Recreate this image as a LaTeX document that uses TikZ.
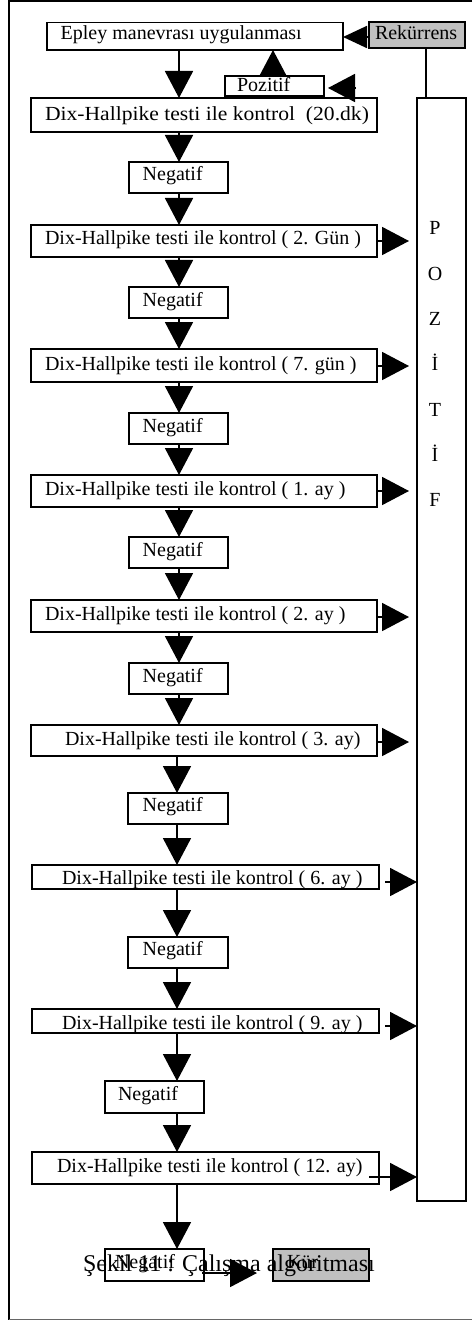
\documentclass[tikz,border=0pt]{standalone}
\usepackage{fontspec}
\setmainfont{Liberation Serif}
\usetikzlibrary{arrows.meta,calc}
\definecolor{boxgray}{RGB}{192,192,192}
\newcommand\bx[6][white]{\node[box, fill=#1, minimum width={(#5-#3)*1pt}, minimum height={(#6-#4)*1pt}] (#2) at (#3,#4) {};}
\begin{document}
\begin{tikzpicture}[x=1pt, y=-1pt, line width=1.7pt, font=\fontsize{20}{24}\selectfont,
  box/.style={draw, line width=1.7pt, inner sep=0pt, outer sep=0pt, anchor=north west},
  txt/.style={inner sep=0pt, outer sep=0pt, anchor=base west},
  arr/.style={-{Triangle[length=27pt,width=28pt]}, line width=1.8pt},
  arrs/.style={-{Triangle[length=24pt,width=22pt]}, line width=1.8pt}]
\useasboundingbox (0,0) rectangle (472,1321);
% outer frame
\draw[line width=1.7pt] (472,0.9) -- (9.2,0.9) -- (9.2,1319.5);
\draw[line width=1.5pt, black!60] (9.2,1319.5) -- (472,1319.5);
% boxes
\bx{Epley}{47}{22.5}{343}{50}
\bx[boxgray]{Rek}{369}{22}{465}{48}
\bx{Pozitif}{225}{76}{324}{96}
\bx{POZ}{417}{98}{466}{1201}
\bx{Dix20}{31}{98}{377}{132}
\bx{N1}{129}{162}{228}{193}
\bx{Dix2}{31}{225}{377}{257}
\bx{N2}{129}{287}{228}{318}
\bx{Dix7}{31}{349}{377}{382}
\bx{N3}{129}{413}{228}{444}
\bx{Dix1}{31}{475}{377}{507}
\bx{N4}{129}{537}{228}{568}
\bx{DixB}{31}{600}{377}{632}
\bx{N5}{129}{663}{228}{694}
\bx{Dix3}{31}{725}{377}{756}
\bx{N6}{128}{793}{228}{824}
\bx{Dix6}{32}{865}{379}{889}
\bx{N7}{128}{937}{228}{968}
\bx{Dix9}{32}{1009}{379}{1033}
\bx{N8}{105}{1081}{204}{1113}
\bx{Dix12}{32}{1152}{379}{1184}
\bx{N9}{105}{1249}{204}{1281}
\bx[boxgray]{Kur}{273}{1249}{369}{1281}
% texts
\node[txt] (tEpley) at (60.7,40) {Epley manevrası uygulanması};
\node[txt] (tRek) at (375,40) {Rekürrens};
\node[txt] (tPoz) at (237,92) {Pozitif};
\node[txt] (tDix20) at (45,121) {\scalebox{1.08}[1]{Dix-Hallpike testi ile kontrol \ (20.dk)}};
\node[txt] (tDix2) at (45,245) {Dix-Hallpike testi ile kontrol ( 2. Gün )};
\node[txt] (tDix7) at (45,370) {Dix-Hallpike testi ile kontrol ( 7. gün )};
\node[txt] (tDix1) at (45,495) {Dix-Hallpike testi ile kontrol ( 1. ay )};
\node[txt] (tDixB) at (45,620) {Dix-Hallpike testi ile kontrol ( 2. ay )};
\node[txt] (tDix3) at (65,745) {Dix-Hallpike testi ile kontrol ( 3. ay)};
\node[txt] (tDix6) at (62,884.5) {Dix-Hallpike testi ile kontrol ( 6. ay )};
\node[txt] (tDix9) at (62,1029) {Dix-Hallpike testi ile kontrol ( 9. ay )};
\node[txt] (tDix12) at (57,1172) {Dix-Hallpike testi ile kontrol ( 12. ay)};
\node[txt] (tN1) at (142.7,181) {Negatif};
\node[txt] (tN2) at (142.7,306) {Negatif};
\node[txt] (tN3) at (142.7,432) {Negatif};
\node[txt] (tN4) at (142.7,556) {Negatif};
\node[txt] (tN5) at (142.7,682) {Negatif};
\node[txt] (tN6) at (142.7,811) {Negatif};
\node[txt] (tN7) at (142.7,955) {Negatif};
\node[txt] (tN8) at (118,1100) {Negatif};
\node[txt] (tN9) at (115,1268) {Negatif};
\node[txt] (tKur) at (287,1268) {Kür};
\foreach \l [count=\i from 0] in {P,O,Z,İ,T,İ,F}
  \node[inner sep=0pt, anchor=base] (L\i) at (435,235+45.3*\i) {\l};
% connector columns
\coordinate (cA) at (179,0);
\coordinate (cC) at (177,0);
\coordinate (cR) at (426,0);
\coordinate (cP) at (273,0);
% vertical chain
\draw[arr] (Epley.south -| cA) -- (Dix20.north -| cA);
\draw[arr] (Dix20.south -| cA) -- (N1.north -| cA);
\draw[arr] (N1.south -| cA) -- (Dix2.north -| cA);
\draw[arr] (Dix2.south -| cA) -- (N2.north -| cA);
\draw[arr] (N2.south -| cA) -- (Dix7.north -| cA);
\draw[arr] (Dix7.south -| cA) -- (N3.north -| cA);
\draw[arr] (N3.south -| cA) -- (Dix1.north -| cA);
\draw[arr] (Dix1.south -| cA) -- (N4.north -| cA);
\draw[arr] (N4.south -| cA) -- (DixB.north -| cA);
\draw[arr] (DixB.south -| cA) -- (N5.north -| cA);
\draw[arr] (N5.south -| cA) -- (Dix3.north -| cA);
\draw[arr] (Dix3.south -| cC) -- (N6.north -| cC);
\draw[arr] (N6.south -| cC) -- (Dix6.north -| cC);
\draw[arr] (Dix6.south -| cC) -- (N7.north -| cC);
\draw[arr] (N7.south -| cC) -- (Dix9.north -| cC);
\draw[arr] (Dix9.south -| cC) -- (N8.north -| cC);
\draw[arr] (N8.south -| cC) -- (Dix12.north -| cC);
\draw[arr] (Dix12.south -| cC) -- (N9.north -| cC);
% right arrows to POZITIF
\draw[arr] (Dix2.east) -- ($(Dix2.east -| POZ.west)+(-8,0)$);
\draw[arr] ($(Dix7.east)+(0,0.5)$) -- ($(Dix7.east -| POZ.west)+(-8,0.5)$);
\draw[arr] (Dix1.east) -- ($(Dix1.east -| POZ.west)+(-8,0)$);
\draw[arr] ($(DixB.east)+(0,1)$) -- ($(DixB.east -| POZ.west)+(-8,1)$);
\draw[arr] ($(Dix3.east)+(0,1.5)$) -- ($(Dix3.east -| POZ.west)+(-8,1.5)$);
\draw[arr] ($(Dix6.east)+(6,5)$) -- ($(Dix6.east -| POZ.west)+(0,5)$);
\draw[arr] ($(Dix9.east)+(6,5)$) -- ($(Dix9.east -| POZ.west)+(0,5)$);
\draw[arr] ($(Dix12.east)+(-10,9)$) -- ($(Dix12.east -| POZ.west)+(0,9)$);
% top part
\draw (Rek.south -| cR) -- (POZ.north -| cR);
\draw[arrs] ($(Rek.west)+(0,2)$) -- ($(Rek.west -| Epley.east)+(0,2)$);
\draw[arr] (Pozitif.north -| cP) -- (Epley.south -| cP);
\coordinate (pzA) at (356,88);
\coordinate (pzB) at (328,88);
\draw[arr] (pzA) -- (pzB);
% bottom
\draw[arr] ($(N9.east)+(-2,8)$) -- ($(Kur.west)+(-16,8)$);
\node[txt, font=\fontsize{24}{28}\selectfont] (cap) at (83,1271) {Şekil 11 : Çalışma algoritması};
\end{tikzpicture}
\end{document}
